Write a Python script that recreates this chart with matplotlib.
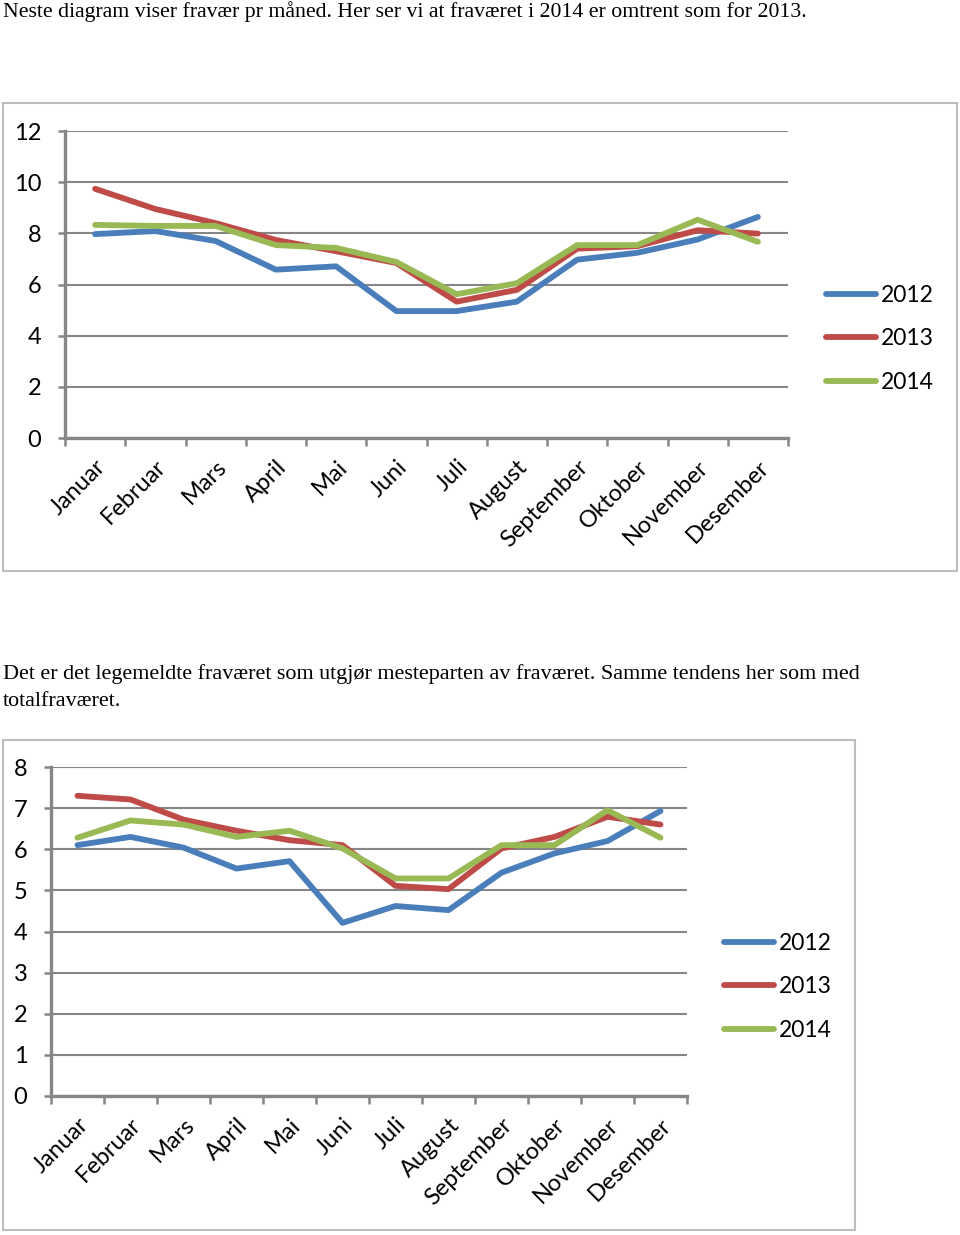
import matplotlib.pyplot as plt
from matplotlib.patches import Rectangle

W, H = 960, 1235

months = ['Januar', 'Februar', 'Mars', 'April', 'Mai', 'Juni', 'Juli',
          'August', 'September', 'Oktober', 'November', 'Desember']
years = ['2012', '2013', '2014']
colors = ['#4a7ebb', '#be4b48', '#98b954']

# totalfravær
tot_2012 = [7.97, 8.09, 7.70, 6.58, 6.71, 4.96, 4.96, 5.33, 6.97, 7.24, 7.76, 8.64]
tot_2013 = [9.74, 8.95, 8.40, 7.74, 7.30, 6.84, 5.33, 5.79, 7.40, 7.50, 8.12, 7.99]
tot_2014 = [8.33, 8.29, 8.29, 7.54, 7.43, 6.88, 5.62, 6.05, 7.54, 7.54, 8.53, 7.67]

# legemeldt fravær
leg_2012 = [6.10, 6.30, 6.04, 5.53, 5.71, 4.21, 4.62, 4.52, 5.43, 5.90, 6.20, 6.93]
leg_2013 = [7.30, 7.21, 6.72, 6.45, 6.22, 6.10, 5.11, 5.03, 6.02, 6.30, 6.79, 6.60]
leg_2014 = [6.28, 6.70, 6.60, 6.30, 6.45, 6.02, 5.29, 5.29, 6.10, 6.10, 6.95, 6.28]

text1 = 'Neste diagram viser fravær pr måned. Her ser vi at fraværet i 2014 er omtrent som for 2013.'
text2a = 'Det er det legemeldte fraværet som utgjør mesteparten av fraværet. Samme tendens her som med'
text2b = 'totalfraværet.'

plt.rcParams['font.family'] = ['Lato', 'DejaVu Sans']
grey = '#868686'


def rect(l, t, r, b):
    return [l / W, 1 - b / H, (r - l) / W, (b - t) / H]


def chart(fig, pos, series, ymax, legend_xy):
    ax = fig.add_axes(rect(*pos))
    for vals, lab, c in zip(series, years, colors):
        ax.plot(range(12), vals, color=c, lw=4.2, label=lab,
                solid_capstyle='round', solid_joinstyle='round')
    ax.set_xlim(-0.5, 11.5)
    ax.set_ylim(0, ymax)
    step = 2 if ymax > 8 else 1
    ax.set_yticks(range(0, ymax + 1, step))
    ax.yaxis.grid(True, color=grey, lw=1.5)
    ax.set_axisbelow(True)
    for s in ['top', 'right']:
        ax.spines[s].set_visible(False)
    for s in ['left', 'bottom']:
        ax.spines[s].set_color(grey)
        ax.spines[s].set_linewidth(2.4)
    ax.set_xticks(range(12))
    ax.set_xticklabels(months, rotation=45, ha='right', rotation_mode='anchor')
    ax.set_xticks([i - 0.5 for i in range(13)], minor=True)
    ax.tick_params(axis='x', which='major', length=0, labelsize=17, pad=13)
    ax.tick_params(axis='x', which='minor', length=6, width=1.8, color=grey)
    ax.tick_params(axis='y', length=5, width=1.8, color=grey, labelsize=17, pad=12)
    ax.legend(loc='center left', bbox_to_anchor=(legend_xy[0] / W, 1 - legend_xy[1] / H),
              bbox_transform=fig.transFigure,
              frameon=False, fontsize=16.5, handlelength=2.2, handletextpad=0.2,
              labelspacing=1.0, borderpad=0, borderaxespad=0)
    return ax


fig = plt.figure(figsize=(W / 100, H / 100), dpi=100)

fig.text(3 / W, 1 - 17 / H, text1, family='Liberation Serif', fontsize=15.7, va='baseline')
fig.text(3 / W, 1 - 679 / H, text2a, family='Liberation Serif', fontsize=15.9, va='baseline')
fig.text(3 / W, 1 - 706 / H, text2b, family='Liberation Serif', fontsize=15.9, va='baseline')

for l, t, r, b in [(3, 103, 957, 571), (3, 740, 855, 1230)]:
    fig.patches.append(Rectangle((l / W, 1 - b / H), (r - l) / W, (b - t) / H,
                                 transform=fig.transFigure, fill=False,
                                 ec='#bdbdbd', lw=1.5))

chart(fig, (65, 131, 788, 438), [tot_2012, tot_2013, tot_2014], 12, (826, 339))
chart(fig, (51, 767, 687, 1096), [leg_2012, leg_2013, leg_2014], 8, (724, 987))

plt.savefig('out.png', dpi=100)
